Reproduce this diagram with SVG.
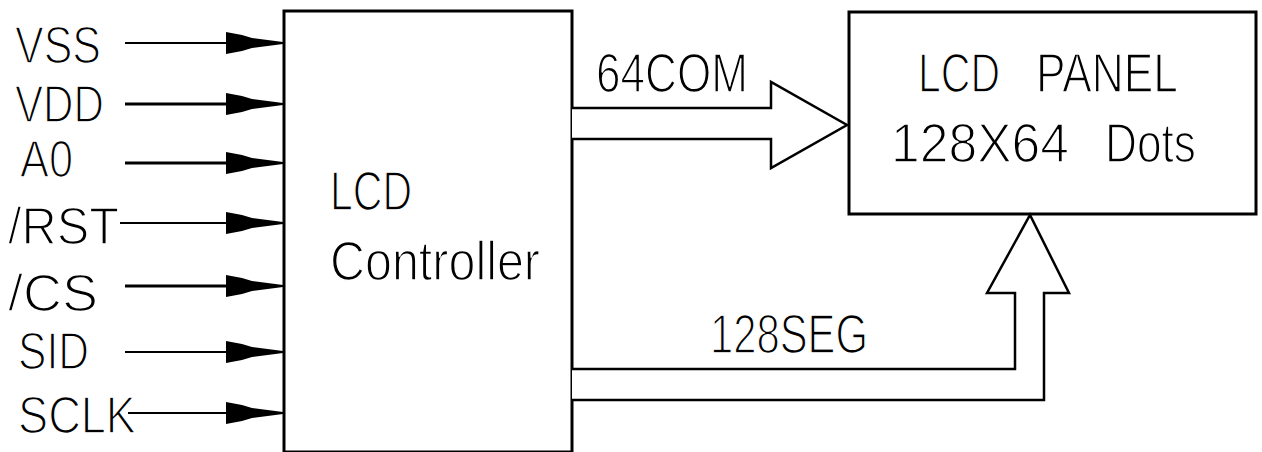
<svg xmlns="http://www.w3.org/2000/svg" width="1262" height="452" viewBox="0 0 1262 452">
<style>
text{font-family:"Liberation Sans",Arial,sans-serif;font-size:55px;fill:#000;stroke:#fff;stroke-width:1.6px}
.lbl{font-size:51px}
.box{fill:#fff;stroke:#000;stroke-width:3}
.ln{stroke:#000;fill:none;stroke-width:2}
.thk{stroke-width:3}
.bus{fill:#fff;stroke:#000;stroke-width:2.5;stroke-linejoin:miter}
</style>
<defs>
<path id="ah" d="M226,-11 L242,-8 L252,-5 L283,-1 L283,1 L252,5 L242,8 L226,11 Z" fill="#000"/>
</defs>
<rect width="1262" height="452" fill="#fff"/>
<g id="controller">
<rect class="box" x="284" y="11" width="288" height="441"/>
<text x="330" y="210" textLength="82" lengthAdjust="spacingAndGlyphs">LCD</text>
<text x="330" y="280" font-size="57" textLength="210" lengthAdjust="spacingAndGlyphs">Controller</text>
</g>
<g id="panel">
<rect class="box" x="849" y="12" width="407" height="202"/>
<text y="92" font-size="56"><tspan x="918" textLength="82" lengthAdjust="spacingAndGlyphs">LCD</tspan><tspan x="1036" textLength="142" lengthAdjust="spacingAndGlyphs">PANEL</tspan></text>
<text y="162" font-size="55"><tspan x="891" textLength="178" lengthAdjust="spacingAndGlyphs">128X64</tspan><tspan x="1105" textLength="91" lengthAdjust="spacingAndGlyphs">Dots</tspan></text>
</g>
<g id="signals">
<text class="lbl" x="15" y="63" textLength="86" lengthAdjust="spacingAndGlyphs">VSS</text>
<text class="lbl" x="15" y="122" textLength="89" lengthAdjust="spacingAndGlyphs">VDD</text>
<text class="lbl" x="20" y="177" textLength="53" lengthAdjust="spacingAndGlyphs">A0</text>
<text class="lbl" x="8" y="244" textLength="111" lengthAdjust="spacingAndGlyphs">/RST</text>
<text class="lbl" x="8" y="311" textLength="90" lengthAdjust="spacingAndGlyphs">/CS</text>
<text class="lbl" x="18" y="369" textLength="71" lengthAdjust="spacingAndGlyphs">SID</text>
<text class="lbl" x="18" y="433" textLength="118" lengthAdjust="spacingAndGlyphs">SCLK</text>
</g>
<g id="connectors">
<line class="ln" x1="125" y1="43" x2="240" y2="43"/>
<use href="#ah" y="43"/>
<line class="ln thk" x1="125" y1="104" x2="240" y2="104"/>
<use href="#ah" y="104"/>
<line class="ln thk" x1="125" y1="163" x2="240" y2="163"/>
<use href="#ah" y="163"/>
<line class="ln" x1="120" y1="223" x2="240" y2="223"/>
<use href="#ah" y="223"/>
<line class="ln thk" x1="125" y1="286" x2="240" y2="286"/>
<use href="#ah" y="286"/>
<line class="ln" x1="125" y1="352" x2="240" y2="352"/>
<use href="#ah" y="352"/>
<line class="ln" x1="128" y1="413" x2="240" y2="413"/>
<use href="#ah" y="413"/>
<path class="bus" d="M572,108 L771,108 L771,82 L847,125 L771,168 L771,139 L572,139"/>
<path class="bus" d="M572,369 L1015,369 L1015,293 L987,293 L1030,215 L1069,293 L1044,293 L1044,400 L572,400"/>
<text x="596" y="92" font-size="53" textLength="152" lengthAdjust="spacingAndGlyphs">64COM</text>
<text x="710" y="353" font-size="57" textLength="158" lengthAdjust="spacingAndGlyphs">128SEG</text>
</g>
</svg>
